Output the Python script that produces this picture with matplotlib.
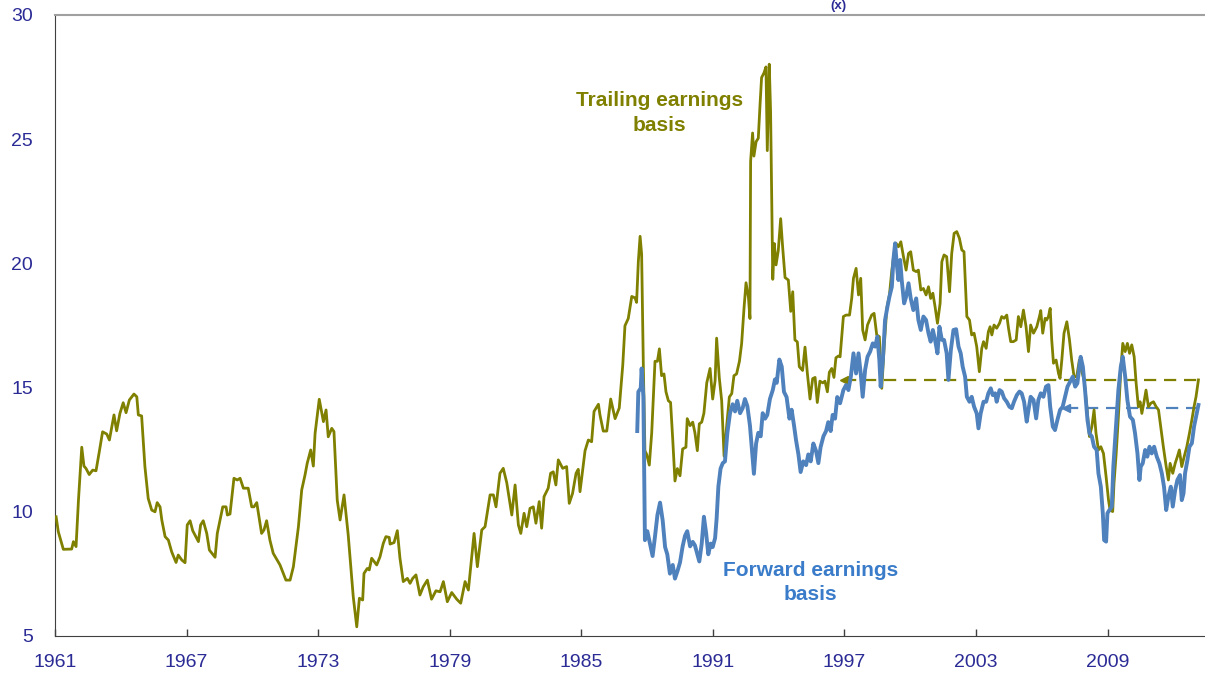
import matplotlib
matplotlib.use("Agg")
import matplotlib.pyplot as plt
from matplotlib import font_manager

# ---------------- data ----------------
trail_years = [
    1961.05, 1961.15, 1961.38, 1961.76, 1961.84, 1961.96, 1962.07, 1962.22, 1962.32, 1962.41,
    1962.56, 1962.72, 1962.87, 1963.02, 1963.17, 1963.36, 1963.48, 1963.69, 1963.81, 1963.96,
    1964.11, 1964.24, 1964.39, 1964.60, 1964.73, 1964.80, 1964.95, 1965.10, 1965.25, 1965.41,
    1965.56, 1965.66, 1965.79, 1965.87, 1966.02, 1966.17, 1966.32, 1966.52, 1966.62, 1966.78,
    1966.93, 1967.03, 1967.16, 1967.28, 1967.54, 1967.64, 1967.76, 1967.92, 1968.04, 1968.30,
    1968.40, 1968.65, 1968.80, 1968.86, 1968.98, 1969.16, 1969.31, 1969.44, 1969.59, 1969.81,
    1969.97, 1970.07, 1970.20, 1970.42, 1970.53, 1970.65, 1970.80, 1970.95, 1971.26, 1971.53,
    1971.72, 1971.87, 1972.10, 1972.25, 1972.40, 1972.50, 1972.66, 1972.78, 1972.86, 1973.05,
    1973.24, 1973.36, 1973.46, 1973.62, 1973.72, 1973.87, 1974.00, 1974.18, 1974.37, 1974.60,
    1974.76, 1974.88, 1975.03, 1975.09, 1975.24, 1975.33, 1975.44, 1975.67, 1975.82, 1975.97,
    1976.09, 1976.24, 1976.28, 1976.46, 1976.61, 1976.73, 1976.88, 1977.07, 1977.19, 1977.31,
    1977.46, 1977.64, 1977.79, 1977.98, 1978.17, 1978.37, 1978.56, 1978.71, 1978.89, 1979.09,
    1979.32, 1979.50, 1979.70, 1979.85, 1980.11, 1980.26, 1980.46, 1980.61, 1980.84, 1980.99,
    1981.11, 1981.29, 1981.44, 1981.60, 1981.83, 1981.98, 1982.13, 1982.24, 1982.39, 1982.51,
    1982.66, 1982.81, 1982.93, 1983.08, 1983.19, 1983.30, 1983.49, 1983.60, 1983.72, 1983.84,
    1983.95, 1984.15, 1984.33, 1984.45, 1984.60, 1984.76, 1984.86, 1984.94, 1985.17, 1985.32,
    1985.47, 1985.58, 1985.78, 1985.85, 1986.00, 1986.16, 1986.34, 1986.54, 1986.73, 1986.89,
    1986.99, 1987.14, 1987.30, 1987.45, 1987.52, 1987.60, 1987.68, 1987.75, 1987.83, 1987.90,
    1987.98, 1988.10, 1988.21, 1988.36, 1988.47, 1988.56, 1988.66, 1988.77, 1988.86, 1988.97,
    1989.07, 1989.17, 1989.27, 1989.38, 1989.50, 1989.62, 1989.77, 1989.83, 1989.96, 1990.08,
    1990.18, 1990.29, 1990.38, 1990.49, 1990.59, 1990.72, 1990.87, 1990.99, 1991.10, 1991.17,
    1991.29, 1991.40, 1991.51, 1991.63, 1991.75, 1991.86, 1991.96, 1992.08, 1992.21, 1992.31,
    1992.42, 1992.51, 1992.62, 1992.69, 1992.72, 1992.81, 1992.87, 1992.97, 1993.07, 1993.15,
    1993.22, 1993.33, 1993.42, 1993.48, 1993.57, 1993.63, 1993.73, 1993.80, 1993.88, 1993.98,
    1994.09, 1994.18, 1994.29, 1994.44, 1994.55, 1994.64, 1994.74, 1994.85, 1994.94, 1995.09,
    1995.20, 1995.31, 1995.43, 1995.55, 1995.66, 1995.76, 1995.88, 1996.01, 1996.11, 1996.22,
    1996.31, 1996.42, 1996.52, 1996.61, 1996.72, 1996.80, 1996.95, 1997.07, 1997.23, 1997.33,
    1997.41, 1997.53, 1997.64, 1997.74, 1997.83, 1997.94, 1998.05, 1998.24, 1998.35, 1998.47,
    1998.59, 1998.70, 1998.81, 1998.93, 1999.05, 1999.16, 1999.26, 1999.35, 1999.46, 1999.57,
    1999.69, 1999.81, 1999.92, 2000.02, 2000.14, 2000.27, 2000.37, 2000.48, 2000.60, 2000.72,
    2000.83, 2000.93, 2001.03, 2001.13, 2001.24, 2001.36, 2001.44, 2001.54, 2001.66, 2001.79,
    2001.89, 2002.00, 2002.12, 2002.24, 2002.35, 2002.45, 2002.58, 2002.70, 2002.80, 2002.91,
    2003.03, 2003.15, 2003.26, 2003.34, 2003.46, 2003.56, 2003.64, 2003.72, 2003.82, 2003.94,
    2004.07, 2004.17, 2004.28, 2004.40, 2004.48, 2004.58, 2004.70, 2004.83, 2004.93, 2005.04,
    2005.16, 2005.28, 2005.39, 2005.49, 2005.62, 2005.77, 2005.89, 2005.95, 2006.04, 2006.15,
    2006.22, 2006.30, 2006.38, 2006.45, 2006.53, 2006.65, 2006.76, 2006.83, 2006.91, 2007.01,
    2007.14, 2007.26, 2007.36, 2007.47, 2007.59, 2007.71, 2007.82, 2007.93, 2008.05, 2008.17,
    2008.28, 2008.38, 2008.47, 2008.58, 2008.69, 2008.81, 2008.93, 2009.04, 2009.11, 2009.23,
    2009.29, 2009.39, 2009.49, 2009.60, 2009.69, 2009.80, 2009.90, 2010.00, 2010.10, 2010.21,
    2010.30, 2010.40, 2010.48, 2010.56, 2010.66, 2010.75, 2010.86, 2010.97, 2011.09, 2011.21,
    2011.32, 2011.42, 2011.54, 2011.67, 2011.77, 2011.85, 2011.97, 2012.08, 2012.18, 2012.27,
    2012.38, 2012.49, 2012.61, 2012.73, 2012.84, 2012.94, 2013.03, 2013.14,
]
trail_vals = [
    9.80, 9.20, 8.49, 8.50, 8.80, 8.60, 10.47, 12.60, 11.84, 11.75,
    11.50, 11.68, 11.65, 12.42, 13.22, 13.13, 12.89, 13.90, 13.26, 13.96,
    14.39, 13.99, 14.50, 14.74, 14.63, 13.90, 13.86, 11.82, 10.54, 10.07,
    10.00, 10.37, 10.20, 9.67, 9.00, 8.86, 8.39, 7.96, 8.26, 8.06,
    7.95, 9.47, 9.64, 9.24, 8.80, 9.47, 9.64, 9.13, 8.46, 8.17,
    9.13, 10.20, 10.20, 9.87, 9.91, 11.35, 11.28, 11.35, 10.95, 10.95,
    10.20, 10.20, 10.37, 9.13, 9.27, 9.64, 8.86, 8.33, 7.86, 7.25,
    7.25, 7.79, 9.40, 10.88, 11.48, 11.95, 12.49, 11.84, 13.16, 14.53,
    13.63, 14.10, 13.02, 13.36, 13.23, 10.47, 9.67, 10.68, 9.07, 6.58,
    5.37, 6.52, 6.45, 7.52, 7.72, 7.66, 8.13, 7.86, 8.19, 8.73,
    9.00, 8.97, 8.70, 8.76, 9.24, 8.13, 7.19, 7.32, 7.12, 7.32,
    7.46, 6.65, 6.98, 7.25, 6.48, 6.82, 6.78, 7.19, 6.38, 6.75,
    6.48, 6.32, 7.19, 6.85, 9.13, 7.79, 9.27, 9.40, 10.68, 10.68,
    10.20, 11.55, 11.75, 11.17, 9.87, 11.08, 9.47, 9.13, 9.94, 9.40,
    10.14, 10.20, 9.54, 10.41, 9.34, 10.61, 10.95, 11.55, 11.61, 11.08,
    12.09, 11.75, 11.82, 10.34, 10.74, 11.55, 11.71, 10.81, 12.46, 12.89,
    12.82, 14.04, 14.33, 13.90, 13.25, 13.25, 14.54, 13.75, 14.18, 15.91,
    17.49, 17.78, 18.67, 18.61, 18.43, 20.08, 21.09, 20.37, 15.77, 12.46,
    12.31, 11.88, 13.18, 16.06, 16.06, 16.56, 15.48, 15.55, 14.83, 14.47,
    14.40, 12.89, 11.24, 11.74, 11.45, 12.53, 12.60, 13.75, 13.47, 13.61,
    13.18, 12.46, 13.54, 13.61, 13.97, 15.19, 15.77, 14.54, 15.28, 16.99,
    15.41, 14.47, 12.24, 13.47, 14.62, 14.76, 15.48, 15.55, 16.06, 16.77,
    18.21, 19.22, 18.64, 17.78, 24.11, 25.25, 24.32, 24.90, 25.04, 26.40,
    27.48, 27.67, 27.91, 24.54, 28.02, 26.12, 19.36, 20.80, 19.94, 20.51,
    21.80, 20.66, 19.43, 19.33, 18.07, 18.86, 16.92, 16.84, 15.84, 15.69,
    16.63, 15.55, 14.54, 15.36, 15.41, 14.40, 15.26, 15.19, 15.26, 14.83,
    15.62, 15.77, 15.41, 16.20, 16.27, 16.24, 17.86, 17.92, 17.92, 18.59,
    19.40, 19.80, 18.73, 19.40, 17.32, 16.92, 17.52, 17.92, 17.99, 17.12,
    17.05, 14.97, 16.65, 18.19, 18.73, 19.73, 20.40, 20.81, 20.67, 20.87,
    20.27, 19.73, 20.40, 20.47, 19.73, 19.67, 19.73, 18.93, 18.99, 18.73,
    19.06, 18.59, 18.80, 18.26, 17.59, 18.39, 20.07, 20.34, 20.27, 18.86,
    20.40, 21.21, 21.28, 21.01, 20.54, 20.47, 17.86, 17.72, 17.12, 17.19,
    16.65, 15.64, 16.58, 16.85, 16.58, 17.25, 17.45, 17.12, 17.52, 17.39,
    17.59, 17.86, 17.79, 17.92, 17.39, 16.85, 16.85, 16.92, 17.86, 17.45,
    18.12, 17.45, 16.45, 17.52, 17.19, 17.45, 17.86, 18.10, 17.19, 17.79,
    17.72, 17.86, 18.19, 16.92, 15.98, 16.11, 15.57, 15.37, 16.11, 17.19,
    17.65, 16.92, 16.11, 15.44, 15.44, 16.11, 15.64, 15.31, 14.23, 13.03,
    13.43, 14.10, 13.16, 12.49, 12.62, 12.35, 11.41, 10.47, 10.07, 10.01,
    11.15, 12.35, 13.83, 15.71, 16.78, 16.45, 16.78, 16.38, 16.72, 16.24,
    15.17, 14.23, 14.43, 13.96, 14.43, 14.90, 14.23, 14.37, 14.43, 14.23,
    14.10, 13.43, 12.62, 11.82, 11.28, 11.95, 11.55, 11.95, 12.22, 12.49,
    11.82, 12.22, 12.62, 13.16, 13.70, 14.23, 14.63, 15.31,
]

fwd_years = [
    1987.55, 1987.60, 1987.71, 1987.75, 1987.83, 1987.90, 1988.01, 1988.13, 1988.25, 1988.36,
    1988.47, 1988.59, 1988.71, 1988.82, 1988.92, 1989.04, 1989.17, 1989.27, 1989.38, 1989.50,
    1989.62, 1989.73, 1989.83, 1989.96, 1990.08, 1990.18, 1990.29, 1990.38, 1990.49, 1990.59,
    1990.69, 1990.79, 1990.90, 1990.99, 1991.10, 1991.17, 1991.25, 1991.35, 1991.45, 1991.55,
    1991.66, 1991.78, 1991.90, 1992.01, 1992.11, 1992.24, 1992.36, 1992.46, 1992.57, 1992.69,
    1992.77, 1992.87, 1992.97, 1993.07, 1993.18, 1993.27, 1993.38, 1993.48, 1993.60, 1993.73,
    1993.83, 1993.91, 1994.03, 1994.14, 1994.24, 1994.36, 1994.49, 1994.59, 1994.70, 1994.79,
    1994.90, 1995.00, 1995.12, 1995.25, 1995.35, 1995.46, 1995.58, 1995.70, 1995.81, 1995.91,
    1996.04, 1996.16, 1996.26, 1996.37, 1996.46, 1996.57, 1996.67, 1996.80, 1996.95, 1997.07,
    1997.18, 1997.29, 1997.41, 1997.53, 1997.64, 1997.74, 1997.83, 1997.94, 1998.05, 1998.17,
    1998.29, 1998.40, 1998.50, 1998.59, 1998.65, 1998.75, 1998.85, 1998.96, 1999.05, 1999.16,
    1999.23, 1999.31, 1999.38, 1999.46, 1999.54, 1999.61, 1999.72, 1999.81, 1999.92, 2000.02,
    2000.14, 2000.27, 2000.37, 2000.48, 2000.60, 2000.72, 2000.83, 2000.93, 2001.03, 2001.13,
    2001.24, 2001.33, 2001.44, 2001.54, 2001.66, 2001.74, 2001.85, 2001.97, 2002.09, 2002.20,
    2002.30, 2002.39, 2002.50, 2002.58, 2002.70, 2002.80, 2002.91, 2003.03, 2003.11, 2003.21,
    2003.34, 2003.46, 2003.56, 2003.67, 2003.76, 2003.87, 2003.94, 2004.07, 2004.17, 2004.28,
    2004.40, 2004.52, 2004.63, 2004.73, 2004.86, 2004.98, 2005.08, 2005.19, 2005.31, 2005.39,
    2005.49, 2005.62, 2005.74, 2005.84, 2005.95, 2006.07, 2006.19, 2006.30, 2006.38, 2006.50,
    2006.60, 2006.71, 2006.83, 2006.95, 2007.06, 2007.17, 2007.29, 2007.41, 2007.52, 2007.62,
    2007.71, 2007.77, 2007.87, 2007.97, 2008.08, 2008.17, 2008.28, 2008.38, 2008.50, 2008.58,
    2008.69, 2008.78, 2008.84, 2008.93, 2008.99, 2009.08, 2009.19, 2009.26, 2009.39, 2009.49,
    2009.60, 2009.69, 2009.80, 2009.90, 2010.02, 2010.15, 2010.25, 2010.36, 2010.45, 2010.51,
    2010.60, 2010.71, 2010.81, 2010.91, 2011.01, 2011.12, 2011.24, 2011.36, 2011.47, 2011.57,
    2011.67, 2011.77, 2011.88, 2011.97, 2012.08, 2012.18, 2012.30, 2012.38, 2012.46, 2012.53,
    2012.64, 2012.73, 2012.84, 2012.94, 2013.03, 2013.14,
]
fwd_vals = [
    13.25, 14.83, 14.98, 15.77, 14.62, 8.86, 9.22, 8.72, 8.22, 9.01,
    9.87, 10.37, 9.65, 8.58, 8.29, 7.51, 7.86, 7.31, 7.60, 7.96,
    8.61, 9.04, 9.22, 8.61, 8.79, 8.65, 8.29, 8.00, 8.72, 9.80,
    9.15, 8.29, 8.72, 8.58, 8.94, 9.73, 11.02, 11.74, 11.96, 12.03,
    13.18, 13.97, 14.33, 14.04, 14.47, 13.97, 14.18, 14.54, 14.26, 13.47,
    12.60, 11.53, 12.75, 13.18, 13.04, 13.97, 13.75, 13.90, 14.54, 14.90,
    15.33, 15.19, 16.13, 15.84, 14.83, 14.62, 13.75, 14.11, 13.47, 12.89,
    12.31, 11.60, 12.03, 11.88, 12.31, 12.03, 12.75, 12.46, 11.96, 12.60,
    13.04, 13.25, 13.61, 13.25, 13.90, 13.75, 14.62, 14.37, 14.90, 15.10,
    14.90, 15.44, 16.38, 15.57, 16.38, 15.57, 14.63, 15.71, 16.24, 16.45,
    16.78, 16.65, 17.05, 16.11, 15.04, 16.11, 17.72, 18.26, 18.66, 19.06,
    20.14, 20.81, 20.00, 19.33, 20.14, 19.33, 18.39, 18.66, 19.20, 18.59,
    18.12, 18.59, 17.72, 17.32, 17.86, 17.72, 17.19, 16.85, 17.32, 16.92,
    16.38, 17.45, 16.92, 16.92, 16.38, 15.31, 16.51, 17.32, 17.35, 16.65,
    16.38, 15.84, 15.44, 14.63, 14.43, 14.63, 14.23, 13.96, 13.36, 13.96,
    14.43, 14.43, 14.77, 14.97, 14.70, 14.77, 14.43, 14.90, 14.84, 14.57,
    14.43, 14.23, 14.17, 14.43, 14.70, 14.84, 14.77, 14.43, 13.63, 14.10,
    14.63, 14.50, 13.76, 14.50, 14.77, 14.63, 15.04, 15.10, 14.23, 13.43,
    13.29, 13.70, 14.10, 14.23, 14.63, 15.04, 15.24, 15.44, 15.04, 15.17,
    15.84, 16.24, 15.84, 14.90, 13.70, 13.16, 13.03, 12.62, 12.49, 11.55,
    11.01, 9.94, 8.86, 8.80, 9.94, 10.07, 10.21, 11.82, 13.56, 14.90,
    15.84, 16.24, 15.44, 14.50, 13.83, 13.70, 13.16, 12.35, 11.28, 11.82,
    11.95, 12.49, 12.22, 12.62, 12.35, 12.62, 12.22, 11.95, 11.55, 11.01,
    10.07, 10.61, 11.01, 10.21, 10.88, 11.28, 11.48, 10.47, 10.74, 11.55,
    12.09, 12.62, 12.76, 13.43, 13.83, 14.30,
]

trail_avg = 15.3
trail_avg_start = 1997.0
fwd_avg = 14.17
fwd_avg_start = 2007.1

x_ticks = [1961, 1967, 1973, 1979, 1985, 1991, 1997, 2003, 2009]
y_ticks = [5, 10, 15, 20, 25, 30]

# ---------------- style ----------------
OLIVE = "#808000"
BLUE = "#4F81BD"
BLUE_TXT = "#3A7CC9"
NAVY = "#2B2B96"

avail = {f.name for f in font_manager.fontManager.ttflist}
base_font = "Liberation Sans" if "Liberation Sans" in avail else "DejaVu Sans"

fig = plt.figure(figsize=(12.05, 6.75), dpi=100)
ax = fig.add_axes([55 / 1205, 1 - 636 / 675, 1150 / 1205, 621 / 675])

x_end = 1961 + 1150 / 21.93
ax.set_xlim(1961, x_end)
ax.set_ylim(5, 30)

# average dashed lines
ax.plot([trail_avg_start, trail_years[-1]], [trail_avg, trail_avg], color=OLIVE,
        lw=1.6, dashes=(5.5, 3.5), zorder=2)
ax.plot([trail_avg_start], [trail_avg], marker="<", color=OLIVE, ms=6, zorder=2)
ax.plot([fwd_avg_start, fwd_years[-1]], [fwd_avg, fwd_avg], color=BLUE,
        lw=1.6, dashes=(5.5, 3.5), zorder=2)
ax.plot([fwd_avg_start], [fwd_avg], marker="<", color=BLUE, ms=6, zorder=2)

ax.plot(trail_years, trail_vals, color=OLIVE, lw=2.0, zorder=3, solid_joinstyle="round")
ax.plot(fwd_years, fwd_vals, color=BLUE, lw=2.8, zorder=4, solid_joinstyle="round")

ax.text(1988.55, 26.05, "Trailing earnings\nbasis", color=OLIVE, fontsize=15,
        fontweight="bold", ha="center", va="center", linespacing=1.38, family=base_font)
ax.text(1995.45, 7.15, "Forward earnings\nbasis", color=BLUE_TXT, fontsize=15,
        fontweight="bold", ha="center", va="center", linespacing=1.3, family=base_font)

# axes styling
ax.set_xticks(x_ticks)
ax.set_xticklabels([str(t) for t in x_ticks])
ax.set_yticks(y_ticks)
ax.set_yticklabels([str(t) for t in y_ticks])
ax.tick_params(axis="x", direction="in", length=5, width=1, color="#404040",
               labelsize=14, labelcolor=NAVY, pad=13)
ax.tick_params(axis="y", length=0, labelsize=14, labelcolor=NAVY, pad=16)
for lab in ax.get_xticklabels() + ax.get_yticklabels():
    lab.set_family(base_font)

ax.spines["left"].set_color("#404040")
ax.spines["bottom"].set_color("#404040")
ax.spines["top"].set_color("#A0A0A0")
ax.spines["top"].set_linewidth(1.5)
ax.spines["right"].set_visible(False)

fig.text(838 / 1205, 1 - 0.5 / 675, "(x)", color=NAVY, fontsize=9.5, fontweight="bold",
         ha="center", va="top", family=base_font)

fig.savefig("out.png", dpi=100)
